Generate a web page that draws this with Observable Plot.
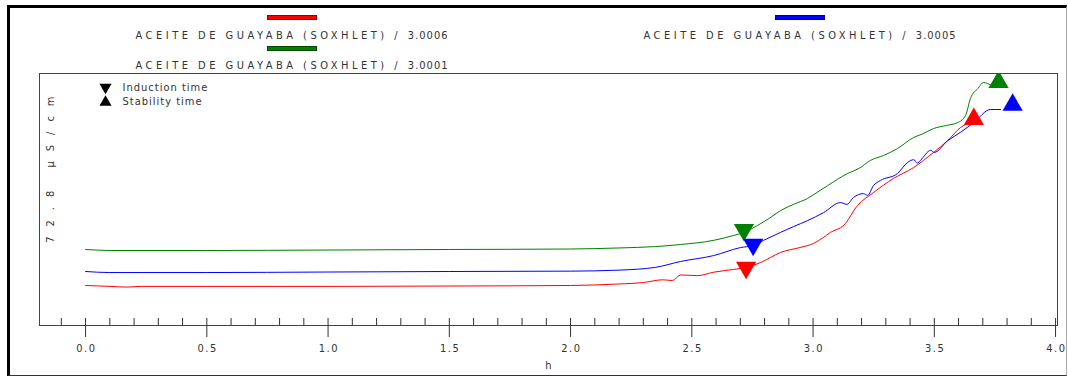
<!DOCTYPE html>
<html><head><meta charset="utf-8">
<script src="https://cdn.jsdelivr.net/npm/d3@7"></script>
<script src="https://cdn.jsdelivr.net/npm/@observablehq/plot@0.6"></script>
<style>
body{margin:0;background:#fff;font-family:"DejaVu Sans Condensed","DejaVu Sans",sans-serif;font-stretch:condensed;color:#333;}
#wrap{position:relative;width:1068px;height:377px;overflow:hidden;background:#fff}
#legend{position:relative;height:68px}
.bar{position:absolute;width:48px;height:3px;}
.lab{position:absolute;transform:translateX(-50%);white-space:nowrap;font-size:11px;line-height:12px;letter-spacing:3.5px}
.lab .num{letter-spacing:1px}
#border{position:absolute;left:7px;top:5px;width:1060px;height:371px;box-sizing:border-box;border-top:3px solid #000;border-left:3px solid #000;border-right:1px solid #aaa;border-bottom:1px solid #333;pointer-events:none}
#chart svg{display:block}
</style>
</head><body>
<div id="wrap">
  <div id="legend"></div>
  <div id="chart"></div>
  <div id="border"></div>
</div>
<script>
// ---- data ----
const seriesNames = ["3.0006", "3.0001", "3.0005"];
const seriesColors = ["#ff0000", "#008000", "#0000ff"];
const legendTitle = "ACEITE DE GUAYABA (SOXHLET) /";
const xMajorTicks = [0, 0.5, 1, 1.5, 2, 2.5, 3, 3.5, 4];
const xMinorTicks = d3.range(-1, 41).map(i => i / 10);
const yLabel = "72.8 µS/cm";
const keyLabels = ["Induction time", "Stability time"];

// conductivity (µS/cm) vs time (h)
const red = [[0,11.56],[0.1,11.3],[0.17,11.1],[0.23,11.3],[0.5,11.3],[1.0,11.3],[1.5,11.4],[2.0,11.56],[2.2,12.0],[2.3,12.4],[2.38,13.2],[2.42,13.0],[2.454,14.6],[2.524,14.4],[2.59,15.4],[2.672,16.2],[2.726,16.8],[2.784,18.2],[2.866,21.1],[2.95,22.6],[3.002,23.7],[3.04,25.3],[3.072,26.9],[3.126,28.9],[3.184,34.7],[3.249,38.4],[3.332,42.5],[3.414,45.6],[3.497,50.0],[3.555,53.4],[3.608,57.2],[3.641,58.6],[3.662,59.8]];
const green = [[0,21.96],[0.1,21.67],[0.5,21.67],[1.0,21.8],[1.5,21.96],[2.0,22.1],[2.2,22.4],[2.35,22.8],[2.454,23.4],[2.59,24.6],[2.672,26.0],[2.715,26.9],[2.771,28.9],[2.82,31.0],[2.866,33.2],[2.92,35.0],[2.977,36.7],[3.02,38.6],[3.06,40.4],[3.142,43.9],[3.19,45.4],[3.237,47.7],[3.29,49.1],[3.348,51.1],[3.414,54.3],[3.45,55.3],[3.497,56.9],[3.55,57.8],[3.596,58.6],[3.629,60.7],[3.649,65.6],[3.68,68.5],[3.703,70.2],[3.72,69.9],[3.74,69.3],[3.765,70.2]];
const blue = [[0,15.6],[0.1,15.3],[0.5,15.3],[1.0,15.45],[1.5,15.6],[2.0,15.7],[2.2,16.0],[2.35,16.8],[2.454,18.5],[2.59,20.2],[2.70,22.5],[2.75,23.1],[2.796,24.6],[2.866,26.9],[2.92,28.6],[2.977,30.3],[3.043,32.6],[3.113,35.5],[3.14,35.0],[3.167,37.0],[3.208,38.1],[3.225,37.6],[3.249,40.4],[3.278,41.9],[3.348,43.9],[3.39,47.1],[3.415,47.9],[3.43,46.9],[3.443,47.7],[3.485,50.6],[3.5,50.0],[3.555,53.4],[3.608,55.8],[3.662,58.6],[3.732,62.4],[3.773,62.4]];

const induction = [["3.0006",2.724,16.7],["3.0001",2.715,27.65],["3.0005",2.753,23.4]];
const stability = [["3.0006",3.663,59.6],["3.0001",3.765,70.3],["3.0005",3.823,63.7]];

// ---- legend (HTML, above the svg) ----
const legendPos = [
  {s: "3.0006", cx: 292, bar: 15, lab: 30},
  {s: "3.0001", cx: 292, bar: 46, lab: 60},
  {s: "3.0005", cx: 800, bar: 15, lab: 30}
];
const lg = d3.select("#legend");
legendPos.forEach(p => {
  const i = seriesNames.indexOf(p.s);
  lg.append("div").attr("class", "bar")
    .style("left", (p.cx - 25) + "px").style("top", p.bar + "px")
    .style("background", seriesColors[i])
    .style("border", "1px solid " + d3.color(seriesColors[i]).darker(1.5));
  const d = lg.append("div").attr("class", "lab")
    .style("left", p.cx + "px").style("top", p.lab + "px");
  d.append("span").text(legendTitle + " ");
  d.append("span").attr("class", "num").text(p.s);
});

// ---- chart ----
const rows = [
  ...red.map(([h, v]) => ({s: "3.0006", h, v})),
  ...green.map(([h, v]) => ({s: "3.0001", h, v})),
  ...blue.map(([h, v]) => ({s: "3.0005", h, v}))
];

const font = '"DejaVu Sans Condensed","DejaVu Sans",sans-serif';
const chart = Plot.plot({
  width: 1068, height: 309,
  marginLeft: 39, marginRight: 11, marginTop: 5, marginBottom: 52,
  x: {domain: [-0.19, 4.008]},
  y: {domain: [0, 72.8], axis: null},
  color: {domain: seriesNames, range: seriesColors},
  style: {fontFamily: font, fontSize: "11px", color: "#333", background: "transparent", overflow: "visible"},
  marks: [
    Plot.frame({stroke: "#444"}),
    Plot.tickX(xMinorTicks, {x: d => d, insetTop: 245, stroke: "#333"}),
    Plot.axisX({ticks: xMajorTicks, tickSize: 12, tickPadding: 7, tickFormat: d3.format(".1f"), label: null, stroke: "#333"}),
    Plot.text(["h"], {frameAnchor: "bottom", dy: 43, fill: "#333"}),
    Plot.text([yLabel], {frameAnchor: "top-left", dx: 7, dy: 23, rotate: -90, textAnchor: "end", fill: "#333", ariaLabel: "ylabel"}),
    Plot.line(rows, {x: "h", y: "v", z: "s", stroke: "s", strokeWidth: 1, curve: "monotone-x"}),
    Plot.dot(induction, {x: d => d[1], y: d => d[2], fill: d => d[0], symbol: "triangle", rotate: 180, r: 7.5, clip: "frame"}),
    Plot.dot(stability, {x: d => d[1], y: d => d[2], fill: d => d[0], symbol: "triangle", r: 7.5, clip: "frame"}),
    Plot.dot([0], {x: null, y: null, frameAnchor: "top-left", dx: 66, dy: 13.7, symbol: "triangle", rotate: 180, r: 4.5, fill: "#000"}),
    Plot.dot([0], {x: null, y: null, frameAnchor: "top-left", dx: 66, dy: 28.7, symbol: "triangle", r: 4.5, fill: "#000"}),
    Plot.text([keyLabels[0]], {frameAnchor: "top-left", dx: 83, dy: 10, textAnchor: "start", fill: "#333", ariaLabel: "key"}),
    Plot.text([keyLabels[1]], {frameAnchor: "top-left", dx: 83, dy: 24, textAnchor: "start", fill: "#333", ariaLabel: "key"})
  ]
});
// spaced-out lettering as in the reference: per-glyph dx shifts
function spaceOut(el, s) {
  const n = [...el.textContent].length;
  el.setAttribute("dx", [0, ...Array(n - 1).fill(s)].join(" "));
}
const tickLabels = new Set(xMajorTicks.map(d3.format(".1f")));
d3.select(chart).selectAll("text").each(function() {
  const t = this.textContent;
  if (tickLabels.has(t)) spaceOut(this, 1.5);
  else if (t === yLabel) spaceOut(this, 10);
  else if (keyLabels.includes(t)) spaceOut(this, 1);
});
document.getElementById("chart").append(chart);
</script>
</body></html>
